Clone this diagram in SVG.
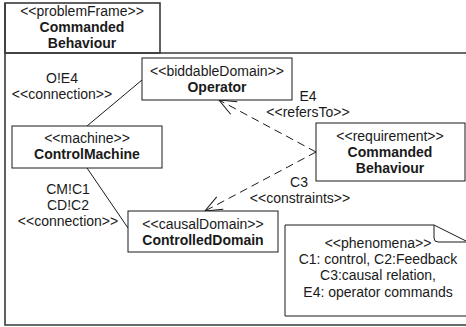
<svg xmlns="http://www.w3.org/2000/svg" width="466" height="327" viewBox="0 0 466 327">
  <style>
    text { font-family: "Liberation Sans", Arial, sans-serif; font-size: 14px; fill: #1a1a1a; text-anchor: middle; }
    .b { font-weight: bold; }
    .box { fill: #fff; stroke: #1a1a1a; stroke-width: 1; }
    .frame { fill: none; stroke: #3a3a3a; stroke-width: 1.6; }
    .solid { stroke: #1a1a1a; stroke-width: 1; fill: none; }
    .dash { stroke: #1a1a1a; stroke-width: 1; fill: none; stroke-dasharray: 8 5; }
  </style>
  <defs>
    <marker id="open" viewBox="0 0 20 20" refX="19" refY="10" markerWidth="20" markerHeight="20" markerUnits="userSpaceOnUse" orient="auto">
      <path d="M2,3 L19,10 L2,17" fill="none" stroke="#1a1a1a" stroke-width="1"/>
    </marker>
  </defs>
  <rect width="466" height="327" fill="#fff"/>

  <!-- package frame -->
  <g id="frame">
    <rect class="frame" x="5" y="3" width="155" height="50"/>
    <path class="frame" d="M5,53 H466 M5,3 V325 H466"/>
    <text x="82" y="16">&lt;&lt;problemFrame&gt;&gt;</text>
    <text class="b" x="82" y="32">Commanded</text>
    <text class="b" x="82" y="48">Behaviour</text>
  </g>

  <!-- connectors -->
  <g id="connectors">
    <line class="solid" x1="142" y1="80" x2="87" y2="126"/>
    <line class="solid" x1="87" y1="168" x2="128" y2="228"/>
    <line class="dash" x1="316" y1="152" x2="219" y2="100" marker-end="url(#open)"/>
    <line class="dash" x1="316" y1="152" x2="205" y2="211" marker-end="url(#open)"/>
    <text x="62" y="83">O!E4</text>
    <text x="62" y="99">&lt;&lt;connection&gt;&gt;</text>
    <text x="68" y="194">CM!C1</text>
    <text x="68" y="210">CD!C2</text>
    <text x="68" y="226">&lt;&lt;connection&gt;&gt;</text>
    <text x="308" y="101">E4</text>
    <text x="308" y="117">&lt;&lt;refersTo&gt;&gt;</text>
    <text x="299" y="187">C3</text>
    <text x="300" y="203">&lt;&lt;constraints&gt;&gt;</text>
  </g>

  <g id="operator">
    <rect class="box" x="142" y="58" width="150" height="42"/>
    <text x="217" y="76">&lt;&lt;biddableDomain&gt;&gt;</text>
    <text class="b" x="217" y="92">Operator</text>
  </g>

  <g id="controlMachine">
    <rect class="box" x="12" y="126" width="150" height="42"/>
    <text x="87" y="143">&lt;&lt;machine&gt;&gt;</text>
    <text class="b" x="87" y="159">ControlMachine</text>
  </g>

  <g id="controlledDomain">
    <rect class="box" x="128" y="211" width="150" height="41"/>
    <text x="203" y="229">&lt;&lt;causalDomain&gt;&gt;</text>
    <text class="b" x="203" y="245">ControlledDomain</text>
  </g>

  <g id="requirement">
    <rect class="box" x="316" y="123" width="149" height="58"/>
    <text x="390" y="141">&lt;&lt;requirement&gt;&gt;</text>
    <text class="b" x="390" y="157">Commanded</text>
    <text class="b" x="390" y="173">Behaviour</text>
  </g>

  <g id="phenomena">
    <path class="box" d="M285,225 H434 L470,243 V316 H285 Z"/>
    <path class="solid" d="M434,225 V238 Q434,242 438,242 H470"/>
    <text x="378" y="248">&lt;&lt;phenomena&gt;&gt;</text>
    <text x="378" y="264">C1: control, C2:Feedback</text>
    <text x="378" y="280">C3:causal relation,</text>
    <text x="378" y="297">E4: operator commands</text>
  </g>
</svg>
